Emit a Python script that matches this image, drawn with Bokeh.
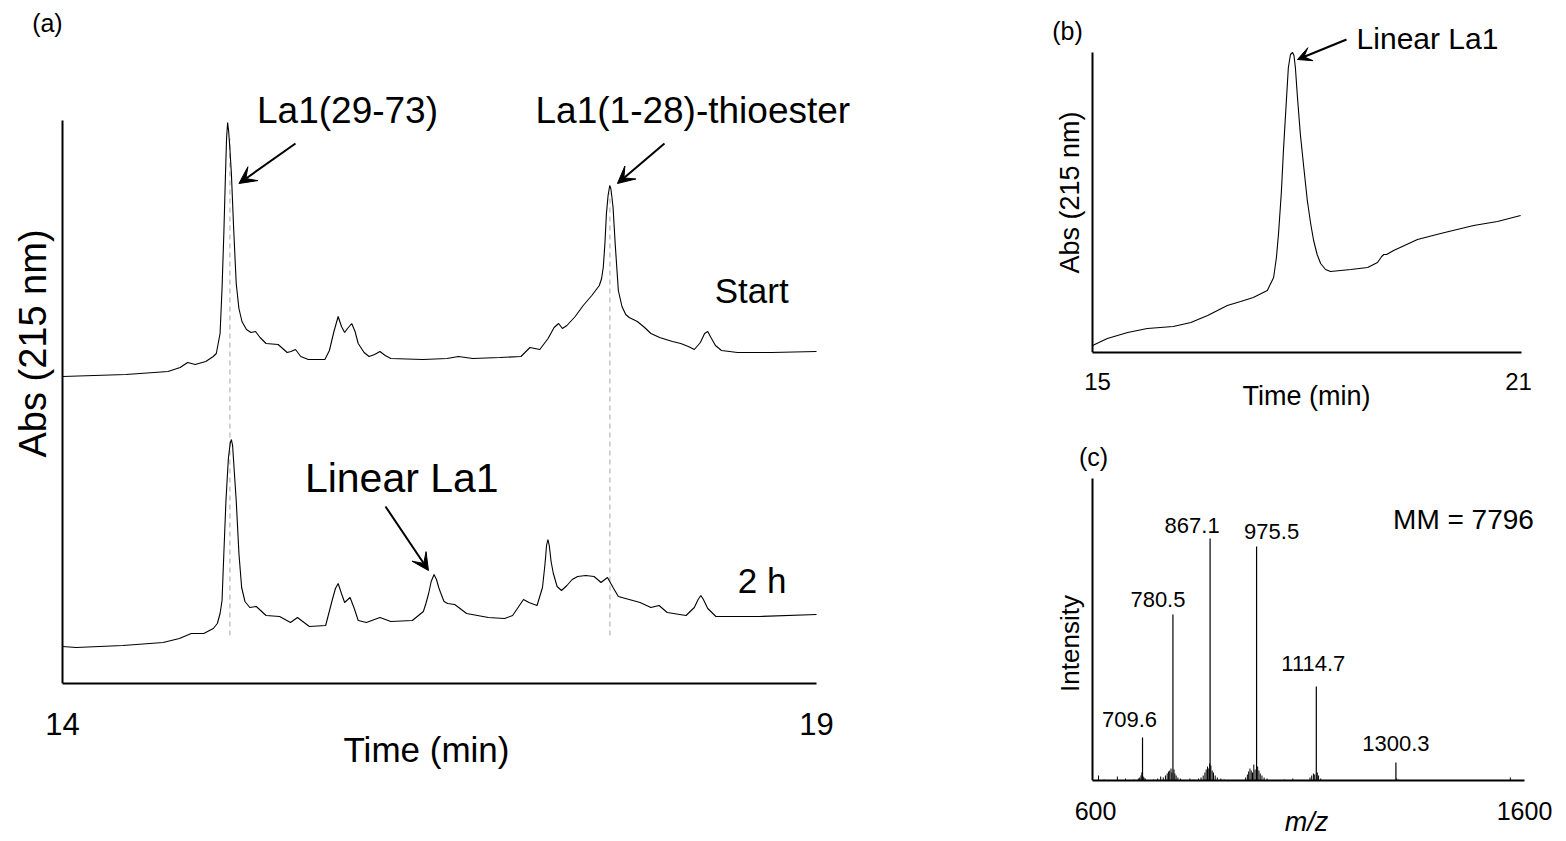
import math
from bokeh.plotting import figure
from bokeh.layouts import row, column
from bokeh.models import Label, Arrow, VeeHead, FixedTicker, ColumnDataSource, Range1d
from bokeh.embed import file_html
from bokeh.resources import INLINE
from bokeh.core.properties import value

FONT = "Liberation Sans"

# ---------------- data: panel (a) HPLC traces ----------------
start_t = [14.00, 14.42, 14.70, 14.78, 14.83, 14.88, 14.95, 15.00, 15.02, 15.035, 15.045, 15.058, 15.07, 15.08,
           15.088, 15.095, 15.102, 15.11, 15.12, 15.135, 15.152, 15.17, 15.19, 15.22, 15.25, 15.28, 15.31, 15.35,
           15.43, 15.49, 15.515, 15.545, 15.58, 15.63, 15.74, 15.77, 15.80, 15.828, 15.85, 15.871, 15.89, 15.918,
           15.94, 15.961, 16.00, 16.033, 16.07, 16.105, 16.14, 16.177, 16.39, 16.55, 16.626, 16.72, 16.90, 17.04,
           17.08, 17.10, 17.165, 17.22, 17.26, 17.29, 17.315, 17.345, 17.40, 17.453, 17.51, 17.56, 17.575, 17.586,
           17.597, 17.607, 17.618, 17.629, 17.636, 17.643, 17.651, 17.665, 17.686, 17.71, 17.735, 17.758, 17.812,
           17.86, 17.902, 17.96, 18.045, 18.10, 18.15, 18.19, 18.23, 18.258, 18.279, 18.30, 18.33, 18.37, 18.476,
           18.70, 19.00]
start_abs = [307, 309, 312, 316, 321, 319, 322, 327, 330, 342, 350, 395, 450, 505,
             545, 561, 552, 535, 510, 455, 400, 375, 362, 354, 351, 352, 346, 340,
             339, 331, 332, 334, 327, 324, 324, 333, 352, 367, 357, 351, 355, 360,
             352, 340, 331, 327, 329, 332, 328, 325, 324, 325, 327, 325, 326, 327,
             333, 336, 334, 345, 356, 360, 355, 358, 367, 378, 388, 398, 405, 416,
             440, 470, 488, 498, 495, 487, 476, 440, 393, 377, 369, 366, 362,
             356, 350, 346, 342, 340, 337, 334, 341, 350, 352, 346, 338, 333, 331,
             331, 332]

h2_t = [14.00, 14.09, 14.40, 14.667, 14.775, 14.854, 14.937, 15.00, 15.027, 15.045, 15.058, 15.07, 15.084,
        15.10, 15.112, 15.12, 15.128, 15.138, 15.152, 15.17, 15.188, 15.21, 15.242, 15.285, 15.35, 15.44,
        15.512, 15.558, 15.637, 15.745, 15.788, 15.81, 15.828, 15.85, 15.871, 15.907, 15.935, 15.961, 16.015,
        16.105, 16.177, 16.32, 16.393, 16.41, 16.428, 16.445, 16.464, 16.48, 16.495, 16.507, 16.53, 16.554,
        16.601, 16.68, 16.824, 16.932, 16.985, 17.03, 17.057, 17.093, 17.147, 17.183, 17.20, 17.21, 17.219,
        17.228, 17.24, 17.255, 17.28, 17.309, 17.345, 17.38, 17.416, 17.47, 17.525, 17.571, 17.614, 17.651,
        17.686, 17.758, 17.83, 17.902, 17.956, 18.01, 18.135, 18.19, 18.215, 18.233, 18.25, 18.279, 18.333,
        18.621, 19.00]
h2_abs = [37, 36, 38, 41, 45, 50, 50, 55, 60, 70, 83, 130, 183,
          225, 240, 244, 238, 215, 183, 130, 96, 82, 76, 77, 68, 67,
          61, 66, 57, 58, 83, 95, 100, 90, 81, 86, 75, 63, 61,
          66, 62, 63, 72, 80, 90, 102, 109, 104, 96, 91, 82, 80,
          79, 70, 66, 65, 68, 78, 84, 81, 78, 96, 120, 138, 144,
          138, 122, 110, 97, 93, 98, 104, 107, 108, 107, 101, 106, 96,
          87, 84, 81, 76, 78, 71, 68, 76, 84, 88, 84, 75, 67,
          67, 69]

dash_times = [15.11, 17.63]
dash_top = [545, 490]
dash_bottom = 48

# ---------------- data: panel (b) purified linear La1 ----------------
b_t = [14.93, 15.14, 15.43, 15.71, 16.08, 16.33, 16.57, 16.85, 17.04, 17.22,
       17.42, 17.51, 17.55, 17.58, 17.62, 17.65, 17.69, 17.72, 17.75, 17.78,
       17.80, 17.82, 17.85, 17.89, 17.94, 17.99, 18.04, 18.08, 18.13, 18.18,
       18.25, 18.32, 18.61, 18.85, 18.99, 19.05, 19.08, 19.12, 19.22, 19.56,
       19.89, 20.36, 20.70, 21.03]
b_abs = [7, 14, 20, 24, 26, 30, 37, 47, 51, 55,
         62, 75, 95, 119, 160, 202, 250, 285, 298, 300,
         297, 285, 255, 219, 185, 152, 128, 112, 98, 89,
         83, 81, 83, 85, 90, 96, 98, 98, 102, 113,
         119, 127, 131, 137]

# ---------------- data: panel (c) ESI-MS ----------------
ms_mz = [709.6, 780.5, 867.1, 975.5, 1114.7, 1300.3]
ms_int = [43, 166, 242, 234, 94, 18]
ms_labels = ["709.6", "780.5", "867.1", "975.5", "1114.7", "1300.3"]

noise_mz = [607, 620, 651, 670, 690, 700, 703, 706, 708, 711, 713, 716, 735,
            745, 752, 758, 763, 767, 770, 773, 776, 778, 783, 785, 788, 792, 798,
            820, 830, 840, 846, 851, 855, 858, 861, 864, 866, 869, 872, 875, 879, 884, 892, 900,
            950, 954, 957, 960, 963, 966, 969, 972, 978, 981, 984, 988, 993, 1000,
            1040, 1060, 1100, 1104, 1108, 1111, 1117, 1120, 1125, 1302, 1307, 1567]
noise_int = [5, 1, 4, 2, 1, 2, 3, 5, 8, 4, 3, 2, 1,
             2, 4, 3, 5, 7, 9, 10, 12, 8, 11, 7, 5, 3, 2,
             2, 1, 2, 3, 5, 8, 11, 14, 12, 17, 15, 10, 8, 5, 3, 2, 1,
             3, 6, 9, 12, 10, 8, 16, 11, 14, 10, 7, 5, 3, 2,
             1, 2, 3, 5, 7, 6, 8, 5, 2, 2, 1, 3]

# ---------------- layout constants (style only) ----------------
ms_label_dx = [-13, -15, -18, 15, -3, 0]
ms_label_dy = [-18, -15, -13, -15, -23, -19]


def setup_axes(p, y_at, y_bounds, x_bounds, ticks, tick_size, standoff, xlabel, xlabel_size,
               xlabel_standoff, xlabel_style="normal", lw=2):
    p.grid.visible = False
    p.outline_line_color = None
    p.background_fill_color = None
    p.border_fill_color = None
    xa, ya = p.xaxis[0], p.yaxis[0]
    for ax in (xa, ya):
        ax.axis_line_color = "black"
        ax.axis_line_width = lw
        ax.major_tick_line_color = None
        ax.minor_tick_line_color = None
        ax.major_tick_out = 0
        ax.major_tick_in = 0
        ax.minor_tick_out = 0
        ax.minor_tick_in = 0
        ax.major_label_text_font = FONT
        ax.axis_label_text_font = FONT
        ax.major_label_text_color = "black"
        ax.axis_label_text_color = "black"
    ya.ticker = FixedTicker(ticks=[])
    ya.major_label_standoff = 0
    ya.fixed_location = y_at
    ya.bounds = y_bounds
    xa.bounds = x_bounds
    xa.ticker = FixedTicker(ticks=ticks)
    xa.major_label_text_font_size = tick_size
    xa.major_label_standoff = standoff
    xa.axis_label = xlabel
    xa.axis_label_text_font_size = xlabel_size
    xa.axis_label_text_font_style = xlabel_style
    xa.axis_label_standoff = xlabel_standoff


def add_label(p, x, y, text, size, align="center", style="normal", angle=0.0):
    p.add_layout(Label(x=x, y=y, text=text, text_font=FONT, text_font_size=size,
                       text_align=align, text_baseline="middle", text_color="black",
                       text_font_style=style, angle=angle))


def add_arrow(p, xs, ys, xe, ye, lw=2, size=17):
    p.add_layout(Arrow(end=VeeHead(size=size, fill_color="black", line_color="black", line_width=1),
                       x_start=xs, y_start=ys, x_end=xe, y_end=ye,
                       line_color="black", line_width=lw))


# ================= panel (a) =================
pa = figure(frame_width=852, frame_height=683, x_range=Range1d(13.5889, 19.2388), y_range=Range1d(0, 683),
            output_backend="svg", toolbar_location=None,
            min_border_left=0, min_border_right=180, min_border_top=0, min_border_bottom=150)
setup_axes(pa, 14, (0, 563), (14, 19), [14, 19], "31px", 29, "Time (min)", "35px", -8)

pa.segment(x0=dash_times, y0=[dash_bottom] * len(dash_times), x1=dash_times, y1=dash_top,
           line_color="#c4c4c4", line_width=1.5, line_dash="5 4")
pa.line(start_t, start_abs, line_color="black", line_width=1.1)
pa.line(h2_t, h2_abs, line_color="black", line_width=1.1)

add_label(pa, 13.804, 340, "Abs (215 nm)", "38px", angle=math.pi / 2)
add_label(pa, 15.89, 573, "La1(29-73)", "37px")
add_label(pa, 18.18, 573, "La1(1-28)-thioester", "37px")
add_label(pa, 18.57, 393, "Start", "35px")
add_label(pa, 18.64, 103, "2 h", "35px")
add_label(pa, 16.25, 206, "Linear La1", "41px")
add_label(pa, 13.900, 661, "(a)", "25px")
add_arrow(pa, 15.545, 540, 15.17, 500)
add_arrow(pa, 17.992, 540, 17.68, 500)
add_arrow(pa, 16.142, 177, 16.427, 113)

# ================= panel (b) =================
pb = figure(frame_width=512, frame_height=352, x_range=Range1d(14.3302, 21.6268), y_range=Range1d(0, 352),
            output_backend="svg", toolbar_location=None,
            min_border_left=18, min_border_right=0, min_border_top=0, min_border_bottom=60)
setup_axes(pb, 14.929, (0, 300), (14.929, 21.042), [15, 21], "24px", 20, "Time (min)", "27px", -12)

pb.line(b_t, b_abs, line_color="black", line_width=1.1)
add_label(pb, 14.615, 160, "Abs (215 nm)", "27px", angle=math.pi / 2)
add_label(pb, 19.703, 314, "Linear La1", "30px")
add_label(pb, 14.572, 322, "(b)", "25px")
add_arrow(pb, 18.549, 313, 17.85, 293, lw=2, size=14)

# ================= panel (c) =================
pc = figure(frame_width=512, frame_height=367, x_range=Range1d(495.1, 1688.6), y_range=Range1d(0, 367),
            output_backend="svg", toolbar_location=None,
            min_border_left=18, min_border_right=0, min_border_top=0, min_border_bottom=60)
setup_axes(pc, 593, (0, 302), (593, 1600.2), [600, 1600], "25px", 21, "m/z", "27px", -16,
           xlabel_style="italic")

pc.segment(x0=noise_mz, y0=[0] * len(noise_mz), x1=noise_mz, y1=noise_int,
           line_color="black", line_width=1)
pc.segment(x0=ms_mz, y0=[0] * len(ms_mz), x1=ms_mz, y1=ms_int,
           line_color="black", line_width=1.2)
src = ColumnDataSource(dict(x=ms_mz, y=ms_int, t=ms_labels, dx=ms_label_dx, dy=ms_label_dy))
pc.text(x="x", y="y", text="t", x_offset="dx", y_offset="dy", source=src,
        text_font=value(FONT), text_font_size="22px", text_align="center",
        text_baseline="middle", text_color="black")
add_label(pc, 539.4, 137, "Intensity", "26px", angle=math.pi / 2)
add_label(pc, 1457.8, 261, "MM = 7796", "28px")
add_label(pc, 595.3, 324, "(c)", "25px")

layout = row(pa, column(pb, pc))
open("out.html", "w").write(file_html(layout, INLINE))
